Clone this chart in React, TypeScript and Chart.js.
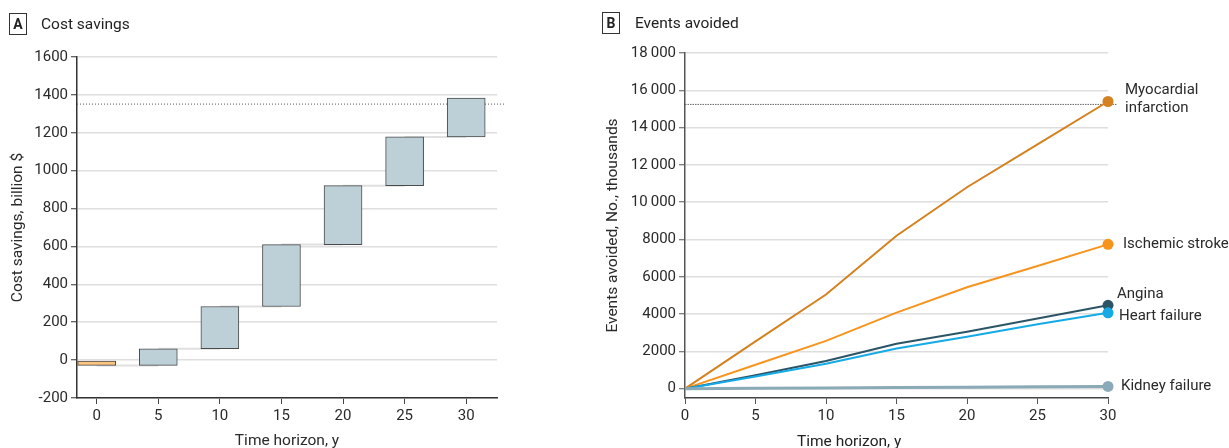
import React, { useEffect, useRef } from "react";
import { Chart, registerables } from "chart.js";

Chart.register(...registerables);

const FONT_FAMILY = "Roboto, 'Liberation Sans', sans-serif";
const TEXT_COLOR = "#2a2a2a";

// ---------- Panel A: cost savings (waterfall) ----------
const costYears = [0, 5, 10, 15, 20, 25, 30];
const costStart = [-5, -28, 60, 283, 610, 921, 1178];
const costEnd = [-28, 60, 283, 610, 921, 1178, 1383];
const costReference = 1354;
const costTickValues = [-200, 0, 200, 400, 600, 800, 1000, 1200, 1400, 1600];
const yearTickValues = [0, 5, 10, 15, 20, 25, 30];

// ---------- Panel B: events avoided ----------
const eventYears = [0, 5, 10, 15, 20, 25, 30];
const miValues = [0, 2540, 5050, 8200, 10800, 13100, 15400];
const strokeValues = [0, 1280, 2560, 4080, 5440, 6580, 7740];
const anginaValues = [0, 720, 1480, 2410, 3050, 3760, 4470];
const heartFailureValues = [0, 650, 1340, 2150, 2780, 3450, 4070];
const kidneyValues = [0, 20, 40, 60, 80, 100, 120];
const eventsReference = 15270;
const eventTickValues = [0, 2000, 4000, 6000, 8000, 10000, 12000, 14000, 16000, 18000];

const seriesNames = ["Kidney failure", "Heart failure", "Angina", "Ischemic stroke", "Myocardial infarction"];
const seriesValues = [kidneyValues, heartFailureValues, anginaValues, strokeValues, miValues];
const seriesLabelLines = [["Kidney failure"], ["Heart failure"], ["Angina"], ["Ischemic stroke"], ["Myocardial", "infarction"]];

// styles (kept apart from data)
const seriesColors = ["#8aaab8", "#14aae6", "#2b5566", "#f7941d", "#d4811f"];
const seriesWidths = [3, 2, 2, 2, 2];
const labelOffsets = [
  { dx: 13, dy: 0 },
  { dx: 11, dy: 3 },
  { dx: 9, dy: -11 },
  { dx: 15, dy: 0 },
  { dx: 17, dy: -11 },
];

const font = (size: number, weight: string = "normal") => ({ family: FONT_FAMILY, size, weight: weight as any, lineHeight: 1.2 });
const fixTicks = (values: number[]) => (s: any) => { s.ticks = values.map((value) => ({ value })); };

const costRefPlugin = {
  id: "costRef",
  beforeDatasetsDraw(chart: any) {
    const { ctx, chartArea, scales } = chart;
    const y = scales.y.getPixelForValue(costReference);
    ctx.save();
    ctx.strokeStyle = "#555";
    ctx.lineWidth = 1;
    ctx.setLineDash([1, 2]);
    ctx.beginPath();
    ctx.moveTo(chartArea.left, y + 0.5);
    ctx.lineTo(chartArea.right + 7, y + 0.5);
    ctx.stroke();
    ctx.restore();
  },
};

const eventsPlugin = {
  id: "eventsExtras",
  beforeDatasetsDraw(chart: any) {
    const { ctx, chartArea, scales } = chart;
    const y = scales.y.getPixelForValue(eventsReference);
    ctx.save();
    ctx.strokeStyle = "#666";
    ctx.lineWidth = 1;
    ctx.setLineDash([1.5, 1]);
    ctx.beginPath();
    ctx.moveTo(chartArea.left, y + 0.5);
    ctx.lineTo(chartArea.right + 9, y + 0.5);
    ctx.stroke();
    ctx.restore();
  },
  afterDatasetsDraw(chart: any) {
    const { ctx, scales } = chart;
    ctx.save();
    ctx.font = `15px ${FONT_FAMILY}`;
    ctx.fillStyle = TEXT_COLOR;
    ctx.textAlign = "left";
    ctx.textBaseline = "middle";
    seriesValues.forEach((vals, i) => {
      const last = vals.length - 1;
      const px = scales.x.getPixelForValue(eventYears[last]);
      const py = scales.y.getPixelForValue(vals[last]);
      const off = labelOffsets[i];
      seriesLabelLines[i].forEach((line, j) => {
        ctx.fillText(line, px + off.dx, py + off.dy + j * 18);
      });
    });
    ctx.restore();
  },
};

function formatThousands(v: number) {
  if (Math.abs(v) >= 10000) {
    const th = Math.floor(v / 1000);
    const rest = String(v % 1000).padStart(3, "0");
    return `${th}\u2009${rest}`;
  }
  return String(v);
}

function CostChart() {
  const ref = useRef<HTMLCanvasElement>(null);
  useEffect(() => {
    if (!ref.current) return;
    const connectorPoints: any[] = [];
    for (let i = 0; i < costYears.length - 1; i++) {
      connectorPoints.push({ x: costYears[i], y: costEnd[i] });
      connectorPoints.push({ x: costYears[i + 1], y: costEnd[i] });
      connectorPoints.push({ x: costYears[i + 1], y: null });
    }
    const chart = new Chart(ref.current, {
      type: "bar",
      data: {
        datasets: [
          {
            type: "bar",
            data: costYears.map((x, i) => ({ x, y: [costStart[i], costEnd[i]] })) as any,
            backgroundColor: costYears.map((_, i) => (costEnd[i] < costStart[i] ? "#fdc47f" : "#bdd0d8")),
            borderColor: "#4a4a4a",
            borderWidth: 1,
            borderSkipped: false,
            barThickness: 38,
            order: 1,
          } as any,
          {
            type: "line",
            data: connectorPoints,
            borderColor: "#e0e0e0",
            borderWidth: 2,
            pointRadius: 0,
            spanGaps: false,
            order: 2,
          } as any,
        ],
      },
      options: {
        animation: false,
        responsive: false,
        maintainAspectRatio: false,
        layout: { padding: { left: 0, top: 57, right: 103, bottom: 0 } },
        plugins: { legend: { display: false }, tooltip: { enabled: false }, title: { display: false } },
        scales: {
          x: {
            type: "linear",
            min: -1.6,
            max: 32.5,
            offset: false,
            afterBuildTicks: fixTicks(yearTickValues),
            ticks: { font: font(15), color: TEXT_COLOR, padding: 3, maxRotation: 0, autoSkip: false, callback: (v: any) => String(v) },
            grid: { offset: false, drawOnChartArea: false, drawTicks: true, tickLength: 6, tickColor: "#444", tickWidth: 1 },
            border: { display: true, color: "#333", width: 1.5 },
            title: { display: true, text: "Time horizon, y", font: font(15.5), color: TEXT_COLOR, padding: { top: 0, bottom: -2 } },
            afterFit: (s: any) => { s.height = 50; },
          } as any,
          y: {
            type: "linear",
            min: -200,
            max: 1600,
            afterBuildTicks: fixTicks(costTickValues),
            ticks: { font: font(15), color: TEXT_COLOR, padding: 3, autoSkip: false, callback: (v: any) => String(v) },
            grid: { color: "#dedede", lineWidth: 1.5, drawTicks: true, tickLength: 6, tickColor: "#333", tickWidth: 1 },
            border: { display: true, color: "#333", width: 1.5 },
            title: { display: true, text: "Cost savings, billion $", font: font(15.5), color: TEXT_COLOR, padding: { top: 9, bottom: 0 } },
            afterFit: (s: any) => { s.width = 77; },
          } as any,
        },
      },
      plugins: [costRefPlugin],
    });
    return () => chart.destroy();
  }, []);
  return <canvas ref={ref} width={600} height={448} style={{ position: "absolute", left: 0, top: 0, width: 600, height: 448 }} />;
}

function EventsChart() {
  const ref = useRef<HTMLCanvasElement>(null);
  useEffect(() => {
    if (!ref.current) return;
    const chart = new Chart(ref.current, {
      type: "line",
      data: {
        datasets: seriesValues.map((vals, i) => ({
          label: seriesNames[i],
          data: eventYears.map((x, k) => ({ x, y: vals[k] })),
          borderColor: seriesColors[i],
          backgroundColor: seriesColors[i],
          borderWidth: seriesWidths[i],
          pointRadius: (c: any) => (c.dataIndex === eventYears.length - 1 ? 5.5 : 0),
          pointBackgroundColor: seriesColors[i],
          pointBorderWidth: 0,
          tension: 0,
          clip: false,
        })) as any,
      },
      options: {
        animation: false,
        responsive: false,
        maintainAspectRatio: false,
        layout: { padding: { left: 0, top: 53, right: 121, bottom: 0 } },
        plugins: { legend: { display: false }, tooltip: { enabled: false }, title: { display: false } },
        scales: {
          x: {
            type: "linear",
            min: 0,
            max: 30,
            offset: false,
            afterBuildTicks: fixTicks(yearTickValues),
            ticks: { font: font(15), color: TEXT_COLOR, padding: 3, maxRotation: 0, autoSkip: false, callback: (v: any) => String(v) },
            grid: { offset: false, drawOnChartArea: false, drawTicks: true, tickLength: 6, tickColor: "#555", tickWidth: 1 },
            border: { display: true, color: "#444", width: 1.5 },
            title: { display: false },
            afterFit: (s: any) => { s.height = 50; },
          } as any,
          y: {
            type: "linear",
            min: -500,
            max: 18000,
            afterBuildTicks: fixTicks(eventTickValues),
            ticks: {
              font: font(15),
              color: TEXT_COLOR,
              padding: 3,
              autoSkip: false,
              callback: (v: any) => formatThousands(Number(v)),
            },
            grid: { color: "#dedede", lineWidth: 1.5, drawTicks: true, tickLength: 6, tickColor: "#555", tickWidth: 1 },
            border: { display: true, color: "#555", width: 1.5 },
            title: { display: true, text: "Events avoided, No., thousands", font: font(15.5), color: TEXT_COLOR, padding: { top: 4, bottom: 0 } },
            afterFit: (s: any) => { s.width = 85; },
          } as any,
        },
      },
      plugins: [eventsPlugin],
    });
    return () => chart.destroy();
  }, []);
  return <canvas ref={ref} width={629} height={448} style={{ position: "absolute", left: 600, top: 0, width: 629, height: 448 }} />;
}

const panelBox: React.CSSProperties = {
  position: "absolute",
  width: 16,
  height: 20,
  border: "1px solid #333",
  fontFamily: FONT_FAMILY,
  fontWeight: 700,
  fontSize: 14,
  lineHeight: "20px",
  textAlign: "center",
  color: "#222",
};
const panelTitle: React.CSSProperties = {
  position: "absolute",
  fontFamily: FONT_FAMILY,
  fontSize: 15.5,
  lineHeight: "20px",
  color: "#222",
  whiteSpace: "nowrap",
};

export default function App() {
  return (
    <div style={{ position: "fixed", left: 0, top: 0, width: 1229, height: 448, background: "#fff", overflow: "hidden" }}>
      <CostChart />
      <EventsChart />
      <div style={{ ...panelBox, left: 9, top: 13 }}>A</div>
      <div style={{ ...panelTitle, left: 41, top: 14 }}>Cost savings</div>
      <div style={{ ...panelBox, left: 602, top: 12 }}>B</div>
      <div style={{ ...panelTitle, left: 635, top: 13 }}>Events avoided</div>
      <div style={{ ...panelTitle, left: 797, top: 431, fontSize: 15.5 }}>Time horizon, y</div>
    </div>
  );
}
